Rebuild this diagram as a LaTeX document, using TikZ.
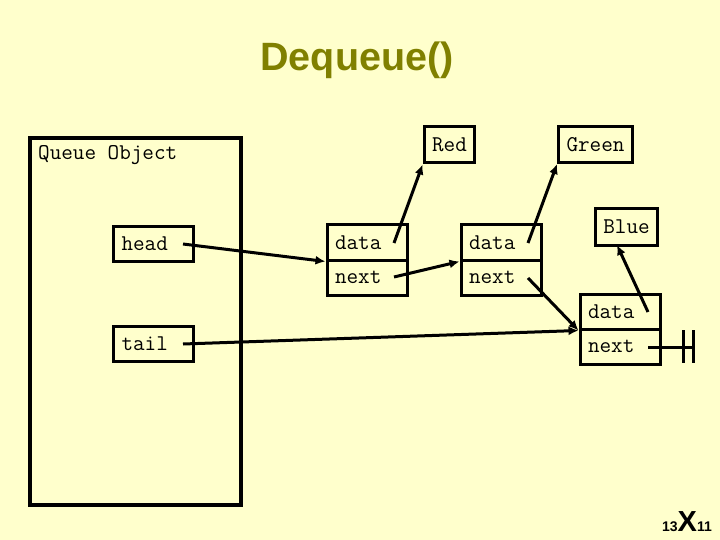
\documentclass[tikz,border=0pt]{standalone}
\usepackage{fontspec}
\setmainfont{Liberation Sans}
\setsansfont{Liberation Sans}
\usetikzlibrary{arrows.meta}
\definecolor{slidebg}{RGB}{255,255,204}
\definecolor{olive}{RGB}{128,128,0}
\begin{document}
\begin{tikzpicture}[x=1pt,y=-1pt,
  every node/.style={font=\fontsize{22.5}{23}\ttfamily},
  cell/.style={draw,line width=3pt,minimum height=35pt,text width=64pt,inner xsep=8pt,align=left},
  valbox/.style={draw,line width=3pt,minimum height=36pt,inner xsep=8pt},
  ptr/.style={line width=3pt,-{Latex[length=10pt,width=9pt]}}]
\useasboundingbox[fill=slidebg] (0,0) rectangle (720,540);
\node[font=\fontsize{39.5}{40}\sffamily\bfseries,text=olive] (title) at (357,60) {Dequeue()};
% queue object
\node[draw,line width=3.5pt,minimum width=211pt,minimum height=367pt] (queue) at (135.5,321.5) {};
\node[anchor=base west,inner sep=0pt] (qlbl) at (38,160) {Queue Object};
\node[cell] (head) at (153.5,244) {head};
\node[cell] (tail) at (153.5,343.5) {tail};
% list nodes
\node[cell] (d1) at (367,242.5) {data};
\node[cell] (n1) at (367,277.5) {next};
\node[cell] (d2) at (501,242.5) {data};
\node[cell] (n2) at (501,277.5) {next};
\node[cell] (d3) at (620,311.5) {data};
\node[cell] (n3) at (620,346.5) {next};
% values
\node[valbox] (red) at (449.5,145) {Red};
\node[valbox] (green) at (595.5,144.5) {Green};
\node[valbox] (blue) at (626.5,227) {Blue};
% pointer starts
\coordinate (ph) at (183,244);
\coordinate (pt) at (183,344);
\coordinate (p1d) at (394,243);
\coordinate (p1n) at (394,277);
\coordinate (p2d) at (528,243);
\coordinate (p2n) at (528,278);
\coordinate (p3d) at (648,312);
\coordinate (p3n) at (648,347);
\coordinate (gnd) at (693,347);
\draw[ptr] (ph) -- (d1.south west);
\draw[ptr] (pt) -- (d3.south west);
\draw[ptr] (p1d) -- (red.south west);
\draw[ptr] (p1n) -- (d2.south west);
\draw[ptr] (p2d) -- (green.south west);
\draw[ptr] (p2n) -- (d3.south west);
\draw[ptr] (p3d) -- (617,245);
\draw[line width=3pt] (p3n) -- (gnd);
\draw[line width=3pt] (683,330) -- (683,363) (gnd) ++(0,-17) -- ++(0,33);
% slide number
\node[anchor=base east,inner sep=0pt,font=\sffamily\bfseries] (pgno) at (712,531)
  {{\fontsize{14}{14}\selectfont 13}{\fontsize{29}{29}\selectfont X}{\fontsize{14}{14}\selectfont 11}};
\end{tikzpicture}
\end{document}
